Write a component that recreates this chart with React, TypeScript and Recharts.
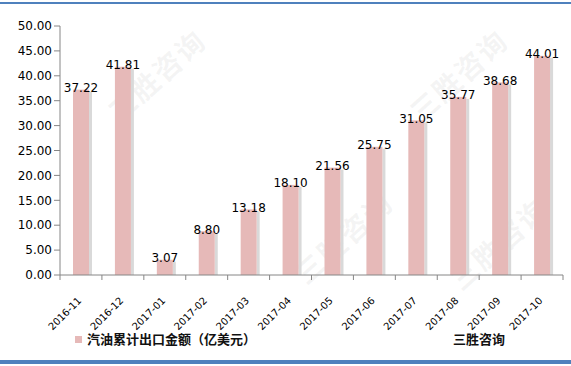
import React from 'react';
import { BarChart, Bar, XAxis, YAxis, LabelList } from 'recharts';

const categories = ['2016-11', '2016-12', '2017-01', '2017-02', '2017-03', '2017-04', '2017-05', '2017-06', '2017-07', '2017-08', '2017-09', '2017-10'];
const values = [37.22, 41.81, 3.07, 8.8, 13.18, 18.1, 21.56, 25.75, 31.05, 35.77, 38.68, 44.01];
const yTicks = [0, 5, 10, 15, 20, 25, 30, 35, 40, 45, 50];
const seriesName = '汽油累计出口金额（亿美元）';
const sourceName = '三胜咨询';

const data = categories.map((c, i) => ({ name: c, value: values[i] }));

const W = 571;
const H = 366;
const M = { top: 26, right: 8, left: 0, bottom: 0 };
const Y_W = 60;
const X_H = 91;
const BAND = (W - M.left - M.right - Y_W) / categories.length;
const FONT = '"DejaVu Sans", Verdana, sans-serif';
const CJK = '"Noto Sans CJK SC", sans-serif';
const BAR = '#e6b9b8';

const BarShape = (p: any) => {
  const { x, y, width, height } = p;
  if (height <= 0) return null;
  return (
    <g>
      <rect x={x + width} y={y + 2} width={3} height={height - 2} fill="#d9d9d9" />
      <rect x={x} y={y} width={width} height={height} fill={BAR} />
    </g>
  );
};

const XTick = (p: any) => {
  const { x, y, payload, index } = p;
  const ax = y - 8;
  const left = x - BAND / 2;
  const right = x + BAND / 2;
  const tx = x - 1;
  const ty = ax + 24;
  return (
    <g>
      <line x1={left} y1={ax} x2={left} y2={ax + 5} stroke="#868686" />
      {index === categories.length - 1 && <line x1={right} y1={ax} x2={right} y2={ax + 5} stroke="#868686" />}
      <text x={tx} y={ty} transform={`rotate(-45, ${tx}, ${ty})`} textAnchor="end" dominantBaseline="middle" fontSize={10} fontFamily={FONT} fill="#000">
        {payload.value}
      </text>
    </g>
  );
};

const ValueLabel = (p: any) => {
  const { x, y, width, value } = p;
  return (
    <text x={x + width / 2} y={y - 1} textAnchor="middle" dominantBaseline="middle" fontSize={12} fontFamily={FONT} fill="#000">
      {Number(value).toFixed(2)}
    </text>
  );
};

const Watermark = ({ x, y, size }: { x: number; y: number; size: number }) => (
  <div style={{ position: 'absolute', left: x, top: y, transform: 'rotate(-42deg)', transformOrigin: 'left top', fontFamily: CJK, fontSize: size, fontWeight: 700, color: 'rgba(170,170,170,0.13)', whiteSpace: 'nowrap', pointerEvents: 'none', letterSpacing: 2 }}>
    {sourceName}
  </div>
);

export default function App() {
  return (
    <div style={{ position: 'absolute', left: 0, top: 0, width: W, height: H, background: '#fff', overflow: 'hidden' }}>
      <div style={{ position: 'absolute', left: 0, top: 2, width: W, height: 2, background: '#4f81bd' }} />
      <div style={{ position: 'absolute', left: 0, top: 360, width: W, height: 4, background: '#4f81bd' }} />
      <Watermark x={98} y={100} size={28} />
      <Watermark x={285} y={262} size={28} />
      <Watermark x={400} y={100} size={28} />
      <Watermark x={440} y={268} size={28} />
      <div style={{ position: 'absolute', left: 0, top: 0 }}>
        <BarChart width={W} height={H} data={data} margin={M} barSize={16}>
          <YAxis
            width={Y_W}
            domain={[0, 50]}
            ticks={yTicks}
            interval={0}
            tickFormatter={(v: number) => v.toFixed(2)}
            tick={{ fontSize: 12, fontFamily: FONT, fill: '#000' }}
            axisLine={{ stroke: '#868686' }}
            tickLine={{ stroke: '#868686' }}
            tickSize={6}
            tickMargin={2}
          />
          <XAxis
            dataKey="name"
            height={X_H}
            interval={0}
            axisLine={{ stroke: '#868686' }}
            tickLine={false}
            tick={<XTick />}
          />
          <Bar dataKey="value" isAnimationActive={false} shape={<BarShape />}>
            <LabelList dataKey="value" content={<ValueLabel />} />
          </Bar>
        </BarChart>
      </div>
      <div style={{ position: 'absolute', left: 75, top: 336, width: 7, height: 7, background: BAR }} />
      <div style={{ position: 'absolute', left: 87, top: 330, fontFamily: CJK, fontSize: 13, fontWeight: 700, color: '#111', whiteSpace: 'nowrap', lineHeight: '18px' }}>
        {seriesName}
      </div>
      <div style={{ position: 'absolute', left: 453, top: 330, fontFamily: CJK, fontSize: 13, fontWeight: 700, color: '#111', whiteSpace: 'nowrap', lineHeight: '18px' }}>
        {sourceName}
      </div>
    </div>
  );
}
